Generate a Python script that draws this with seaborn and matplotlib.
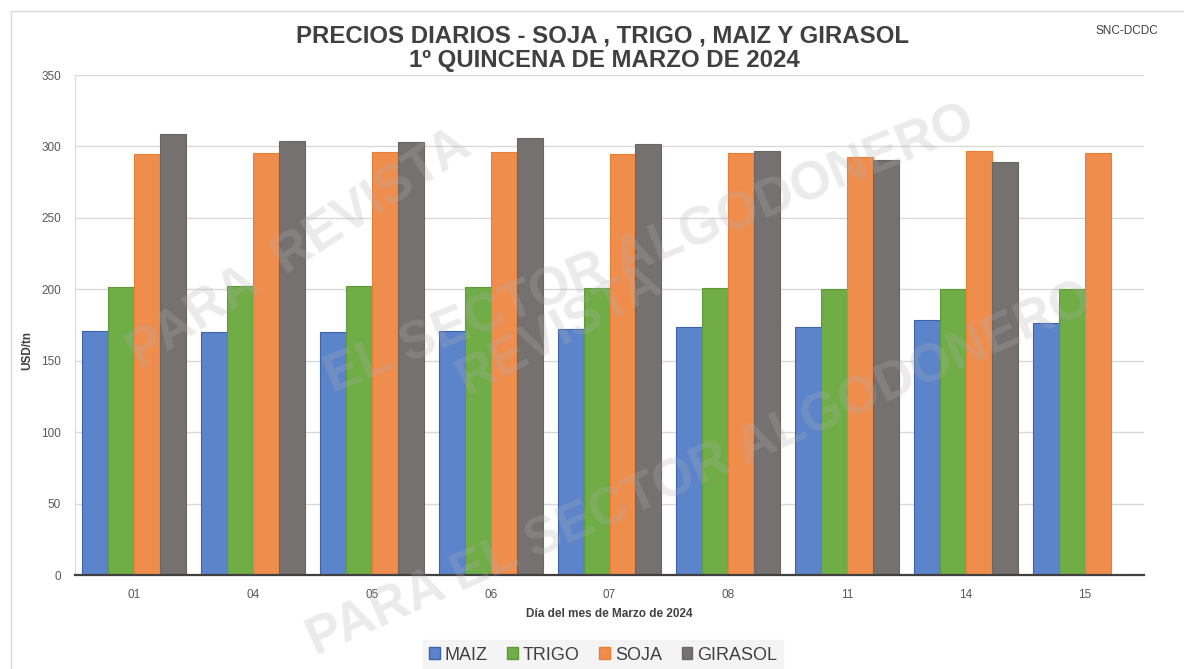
import matplotlib
matplotlib.use("Agg")
import matplotlib.pyplot as plt
import pandas as pd
import seaborn as sns
from matplotlib.patches import Rectangle
from matplotlib.ticker import FixedLocator

DIAS = ["01", "04", "05", "06", "07", "08", "11", "14", "15"]
MAIZ = [171.0, 170.3, 170.3, 171.0, 172.2, 173.8, 173.8, 178.5, 176.6]
TRIGO = [201.6, 202.3, 202.3, 201.6, 200.9, 200.9, 200.0, 200.0, 200.0]
SOJA = [294.9, 295.6, 296.3, 296.1, 294.9, 295.4, 292.8, 296.8, 295.6]
GIRASOL = [309.0, 303.8, 303.1, 305.7, 301.7, 296.8, 290.3, 288.9, None]
SERIES = ["MAIZ", "TRIGO", "SOJA", "GIRASOL"]
FILL = ["#5b84cb", "#70ad47", "#ef8d4d", "#767171"]
EDGE = ["#3b62ad", "#5d9a38", "#ed7d31", "#6a6666"]

rows = []
for name, vals in zip(SERIES, [MAIZ, TRIGO, SOJA, GIRASOL]):
    for dia, v in zip(DIAS, vals):
        rows.append({"dia": dia, "grano": name, "precio": v})
df = pd.DataFrame(rows)

sns.set_style("white")
plt.rcParams["font.family"] = ["Liberation Sans", "DejaVu Sans"]

W, H = 1184, 669
fig = plt.figure(figsize=(W / 100, H / 100), dpi=100)
ax = fig.add_axes([75 / W, 1 - 575 / H, 1069 / W, 500 / H])

sns.barplot(data=df, x="dia", y="precio", hue="grano", order=DIAS, hue_order=SERIES,
            palette=FILL, saturation=1, width=0.875, gap=0, ax=ax, legend=False, zorder=3)
for container, ec in zip(ax.containers, EDGE):
    for bar in container:
        bar.set_edgecolor(ec)
        bar.set_linewidth(0.8)

ax.set_ylim(0, 350)
ax.set_xlim(-0.5, len(DIAS) - 0.5)
ax.set_yticks(range(0, 351, 50))
ax.grid(axis="y", color="#d9d9d9", linewidth=1, zorder=0)
ax.set_axisbelow(True)
for side in ["top", "right"]:
    ax.spines[side].set_visible(False)
ax.spines["left"].set_color("#d9d9d9")
ax.spines["bottom"].set_color("#404040")
ax.spines["bottom"].set_linewidth(1.6)
ax.spines["bottom"].set_zorder(5)

ax.tick_params(axis="y", length=0, labelsize=8.5, labelcolor="#595959", pad=10)
ax.tick_params(axis="x", which="major", length=0, labelsize=8.5, labelcolor="#595959", pad=10)
ax.xaxis.set_minor_locator(FixedLocator([i - 0.5 for i in range(len(DIAS) + 1)]))
ax.tick_params(axis="x", which="minor", length=5, width=1, color="#404040", direction="out")

ax.set_xlabel("Día del mes de Marzo de 2024", fontsize=8.5, fontweight="bold", color="#404040")
ax.xaxis.set_label_coords(0.5, -0.066)
ax.set_ylabel("USD/tn", fontsize=8.5, fontweight="bold", color="#404040")
ax.yaxis.set_label_coords(-0.039, 0.45)

fig.text(603 / W, 1 - 36 / H, "PRECIOS DIARIOS - SOJA , TRIGO , MAIZ Y GIRASOL",
         ha="center", va="center", fontsize=17.3, fontweight="bold", color="#404040")
fig.text(604 / W, 1 - 60 / H, "1º QUINCENA DE MARZO DE 2024",
         ha="center", va="center", fontsize=17.3, fontweight="bold", color="#404040")
fig.text(1127 / W, 1 - 31 / H, "SNC-DCDC", ha="center", va="center", fontsize=8.5, color="#404040")

# marco exterior
fig.patches.append(Rectangle((11 / W, -0.05), 1.2, 1 - 11 / H + 0.05, transform=fig.transFigure,
                             fill=False, edgecolor="#d9d9d9", linewidth=1))

# marca de agua
wm = dict(fontsize=38, fontweight="bold", color="#b0b0b0", alpha=0.25, ha="center", va="center", zorder=10)
fig.text(300 / W, 1 - 250 / H, "PARA  REVISTA", rotation=33, **wm)
fig.text(650 / W, 1 - 250 / H, "EL SECTOR ALGODONERO", rotation=22, **wm)
fig.text(560 / W, 1 - 330 / H, "REVISTA", rotation=28, **wm)
fig.text(700 / W, 1 - 470 / H, "PARA EL SECTOR ALGODONERO", rotation=24, **wm)

handles = [Rectangle((0, 0), 1, 1, facecolor=f, edgecolor=e) for f, e in zip(FILL, EDGE)]
leg = fig.legend(handles, SERIES, loc="center", bbox_to_anchor=(603 / W, 1 - 655 / H), ncol=4,
                 fontsize=13, frameon=True, handlelength=0.6, handleheight=0.6, handletextpad=0.25,
                 columnspacing=1.1, borderpad=0.35, fancybox=False)
leg.get_frame().set_facecolor("#f2f2f2")
leg.get_frame().set_edgecolor("#f2f2f2")
for t in leg.get_texts():
    t.set_color("#404040")

fig.savefig("out.png", dpi=100)
